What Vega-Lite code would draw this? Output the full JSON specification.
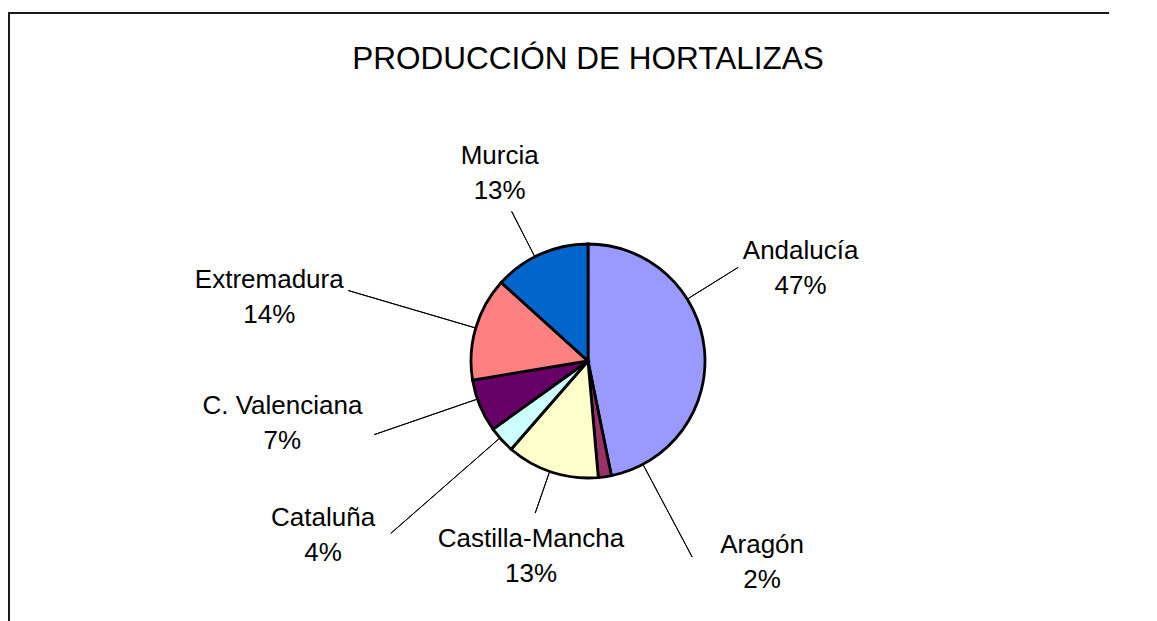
{
  "$schema": "https://vega.github.io/schema/vega-lite/v6.json",
  "width": 1158,
  "height": 696,
  "autosize": {"type": "none"},
  "padding": {"left": 9, "top": 13, "right": 0, "bottom": 0},
  "background": "white",
  "view": {"stroke": "#1a1a1a", "strokeWidth": 2, "strokeDash": [1100, 760, 4000]},
  "config": {
    "view": {"stroke": "#1a1a1a", "strokeWidth": 2, "strokeDash": [1100, 760, 4000]},
    "text": {"font": "Liberation Sans", "fontSize": 26, "color": "#000", "baseline": "middle", "align": "center"}
  },
  "title": {
    "text": "PRODUCCIÓN DE HORTALIZAS",
    "font": "Liberation Sans",
    "fontSize": 31.5,
    "fontWeight": "normal",
    "color": "#000",
    "anchor": "middle",
    "frame": "group",
    "baseline": "alphabetic",
    "offset": -87
  },
  "data": {
    "values": [
      {"orden": 1, "region": "Andalucía", "share": 0.468},
      {"orden": 2, "region": "Aragón", "share": 0.018},
      {"orden": 3, "region": "Castilla-Mancha", "share": 0.128},
      {"orden": 4, "region": "Cataluña", "share": 0.037},
      {"orden": 5, "region": "C. Valenciana", "share": 0.073},
      {"orden": 6, "region": "Extremadura", "share": 0.143},
      {"orden": 7, "region": "Murcia", "share": 0.133}
    ]
  },
  "encoding": {
    "theta": {"field": "share", "type": "quantitative", "stack": true},
    "order": {"field": "orden", "type": "quantitative"}
  },
  "layer": [
    {
      "mark": {"type": "arc", "radius": 117, "stroke": "#000", "strokeWidth": 2.8},
      "encoding": {
        "color": {
          "field": "region",
          "type": "nominal",
          "scale": {
            "domain": ["Andalucía", "Aragón", "Castilla-Mancha", "Cataluña", "C. Valenciana", "Extremadura", "Murcia"],
            "range": ["#9999FF", "#993366", "#FFFFCC", "#CCFFFF", "#660066", "#FF8080", "#0066CC"]
          },
          "legend": null
        }
      }
    },
    {
      "mark": {"type": "arc", "radius": 177, "radius2": 118, "padAngle": 3, "thetaOffset": -0.457, "theta2Offset": -0.457, "fill": "transparent", "stroke": "#000", "strokeWidth": 1},
      "encoding": {"strokeOpacity": {"condition": {"test": "datum.region === 'Andalucía'", "value": 1}, "value": 0}}
    },
    {
      "mark": {"type": "arc", "radius": 222, "radius2": 118, "padAngle": 3, "thetaOffset": -0.344, "theta2Offset": -0.344, "fill": "transparent", "stroke": "#000", "strokeWidth": 1},
      "encoding": {"strokeOpacity": {"condition": {"test": "datum.region === 'Aragón'", "value": 1}, "value": 0}}
    },
    {
      "mark": {"type": "arc", "radius": 161, "radius2": 118, "padAngle": 3, "thetaOffset": 0.02, "theta2Offset": 0.02, "fill": "transparent", "stroke": "#000", "strokeWidth": 1},
      "encoding": {"strokeOpacity": {"condition": {"test": "datum.region === 'Castilla-Mancha'", "value": 1}, "value": 0}}
    },
    {
      "mark": {"type": "arc", "radius": 262, "radius2": 118, "padAngle": 3, "thetaOffset": 0.02, "theta2Offset": 0.02, "fill": "transparent", "stroke": "#000", "strokeWidth": 1},
      "encoding": {"strokeOpacity": {"condition": {"test": "datum.region === 'Cataluña'", "value": 1}, "value": 0}}
    },
    {
      "mark": {"type": "arc", "radius": 226, "radius2": 118, "padAngle": 3, "thetaOffset": 0.061, "theta2Offset": 0.061, "fill": "transparent", "stroke": "#000", "strokeWidth": 1},
      "encoding": {"strokeOpacity": {"condition": {"test": "datum.region === 'C. Valenciana'", "value": 1}, "value": 0}}
    },
    {
      "mark": {"type": "arc", "radius": 250, "radius2": 118, "padAngle": 3, "thetaOffset": 0, "theta2Offset": 0, "fill": "transparent", "stroke": "#000", "strokeWidth": 1},
      "encoding": {"strokeOpacity": {"condition": {"test": "datum.region === 'Extremadura'", "value": 1}, "value": 0}}
    },
    {
      "mark": {"type": "arc", "radius": 168, "radius2": 118, "padAngle": 3, "thetaOffset": -0.054, "theta2Offset": -0.054, "fill": "transparent", "stroke": "#000", "strokeWidth": 1},
      "encoding": {"strokeOpacity": {"condition": {"test": "datum.region === 'Murcia'", "value": 1}, "value": 0}}
    },
    {
      "mark": {"type": "text", "radius": 232, "thetaOffset": -0.311, "dy": -17.5},
      "encoding": {"text": {"condition": {"test": "datum.region === 'Andalucía'", "field": "region", "type": "nominal"}, "value": ""}}
    },
    {
      "mark": {"type": "text", "radius": 232, "thetaOffset": -0.311, "dy": 17.5},
      "encoding": {"text": {"condition": {"test": "datum.region === 'Andalucía'", "field": "share", "type": "quantitative", "format": ".0%"}, "value": ""}}
    },
    {
      "mark": {"type": "text", "radius": 266, "thetaOffset": -0.569, "dy": -17.5},
      "encoding": {"text": {"condition": {"test": "datum.region === 'Aragón'", "field": "region", "type": "nominal"}, "value": ""}}
    },
    {
      "mark": {"type": "text", "radius": 266, "thetaOffset": -0.569, "dy": 17.5},
      "encoding": {"text": {"condition": {"test": "datum.region === 'Aragón'", "field": "share", "type": "quantitative", "format": ".0%"}, "value": ""}}
    },
    {
      "mark": {"type": "text", "radius": 204, "thetaOffset": -0.031, "dy": -17.5},
      "encoding": {"text": {"condition": {"test": "datum.region === 'Castilla-Mancha'", "field": "region", "type": "nominal"}, "value": ""}}
    },
    {
      "mark": {"type": "text", "radius": 204, "thetaOffset": -0.031, "dy": 17.5},
      "encoding": {"text": {"condition": {"test": "datum.region === 'Castilla-Mancha'", "field": "share", "type": "quantitative", "format": ".0%"}, "value": ""}}
    },
    {
      "mark": {"type": "text", "radius": 317, "thetaOffset": 0.157, "dy": -17.5},
      "encoding": {"text": {"condition": {"test": "datum.region === 'Cataluña'", "field": "region", "type": "nominal"}, "value": ""}}
    },
    {
      "mark": {"type": "text", "radius": 317, "thetaOffset": 0.157, "dy": 17.5},
      "encoding": {"text": {"condition": {"test": "datum.region === 'Cataluña'", "field": "share", "type": "quantitative", "format": ".0%"}, "value": ""}}
    },
    {
      "mark": {"type": "text", "radius": 312, "thetaOffset": 0.19, "dy": -17.5},
      "encoding": {"text": {"condition": {"test": "datum.region === 'C. Valenciana'", "field": "region", "type": "nominal"}, "value": ""}}
    },
    {
      "mark": {"type": "text", "radius": 312, "thetaOffset": 0.19, "dy": 17.5},
      "encoding": {"text": {"condition": {"test": "datum.region === 'C. Valenciana'", "field": "share", "type": "quantitative", "format": ".0%"}, "value": ""}}
    },
    {
      "mark": {"type": "text", "radius": 325, "thetaOffset": -0.089, "dy": -17.5},
      "encoding": {"text": {"condition": {"test": "datum.region === 'Extremadura'", "field": "region", "type": "nominal"}, "value": ""}}
    },
    {
      "mark": {"type": "text", "radius": 325, "thetaOffset": -0.089, "dy": 17.5},
      "encoding": {"text": {"condition": {"test": "datum.region === 'Extremadura'", "field": "share", "type": "quantitative", "format": ".0%"}, "value": ""}}
    },
    {
      "mark": {"type": "text", "radius": 207, "thetaOffset": -0.023, "dy": -17.5},
      "encoding": {"text": {"condition": {"test": "datum.region === 'Murcia'", "field": "region", "type": "nominal"}, "value": ""}}
    },
    {
      "mark": {"type": "text", "radius": 207, "thetaOffset": -0.023, "dy": 17.5},
      "encoding": {"text": {"condition": {"test": "datum.region === 'Murcia'", "field": "share", "type": "quantitative", "format": ".0%"}, "value": ""}}
    }
  ]
}
